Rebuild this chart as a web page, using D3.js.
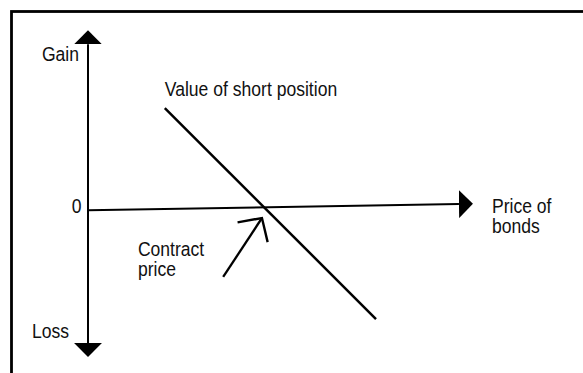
<!DOCTYPE html>
<html>
<head>
<meta charset="utf-8">
<script src="https://cdn.jsdelivr.net/npm/d3@7"></script>
<style>
  body { margin: 0; background: #fff; }
  svg text { font-family: "Liberation Sans", Arial, sans-serif; font-size: 19.3px; fill: #111; }
</style>
</head>
<body>
<svg id="chart" width="583" height="373"></svg>
<script>
// Diagram values in chart units (price on x, gain/loss on y)
const priceAxis = [{ x: 0, y: -0.1 }, { x: 9.66, y: 0.32 }];
const valueAxis = [{ x: 0, y: 11.1 }, { x: 0, y: -9.05 }];
const shortPosition = [{ x: 2.0, y: 6.8 }, { x: 7.5, y: -7.44 }];
const contractPointer = [{ x: 3.52, y: -4.6 }, { x: 4.53, y: -0.62 }];

const labels = [
  { lines: ["Gain"], x: -1.2, y: 9.98 },
  { lines: ["0"], x: -0.42, y: -0.28 },
  { lines: ["Loss"], x: -1.46, y: -8.72 },
  { lines: ["Value of short position"], x: 2.0, y: 7.61 },
  { lines: ["Contract", "price"], x: 1.3, y: -3.18 },
  { lines: ["Price of", "bonds"], x: 10.52, y: -0.28 }
];

const svg = d3.select("#chart");

const x = d3.scaleLinear().domain([0, 10]).range([88, 472]);
const y = d3.scaleLinear().domain([-10, 12]).range([357, 31]);

const line = d3.line()
  .x(d => x(d.x))
  .y(d => y(d.y));

// frame (only top and left edges fall inside the picture)
svg.append("rect")
  .attr("x", 11.5).attr("y", 11.5)
  .attr("width", 620).attr("height", 420)
  .attr("fill", "none")
  .attr("stroke", "#000")
  .attr("stroke-width", 2.8);

const defs = svg.append("defs");

defs.append("marker")
  .attr("id", "solidHead")
  .attr("viewBox", "0 0 14 28")
  .attr("refX", 0).attr("refY", 14)
  .attr("markerWidth", 14).attr("markerHeight", 28)
  .attr("markerUnits", "userSpaceOnUse")
  .attr("orient", "auto-start-reverse")
  .append("path")
  .attr("d", "M0,0L14,14L0,28Z")
  .attr("fill", "#000");

defs.append("marker")
  .attr("id", "openHead")
  .attr("viewBox", "-26 -20 30 40")
  .attr("refX", 0).attr("refY", 0)
  .attr("markerWidth", 30).attr("markerHeight", 40)
  .attr("markerUnits", "userSpaceOnUse")
  .attr("orient", "auto")
  .append("path")
  .attr("d", "M-17,-18L0,0L-17,18")
  .attr("fill", "none")
  .attr("stroke", "#000")
  .attr("stroke-width", 2.4);

// vertical axis: Gain up, Loss down
svg.append("path")
  .datum(valueAxis)
  .attr("fill", "none")
  .attr("stroke", "#000")
  .attr("stroke-width", 2)
  .attr("d", line)
  .attr("marker-start", "url(#solidHead)")
  .attr("marker-end", "url(#solidHead)");

// horizontal axis: price of bonds
svg.append("path")
  .datum(priceAxis)
  .attr("fill", "none")
  .attr("stroke", "#000")
  .attr("stroke-width", 2)
  .attr("d", line)
  .attr("marker-end", "url(#solidHead)");

// short position payoff
svg.append("path")
  .datum(shortPosition)
  .attr("fill", "none")
  .attr("stroke", "#000")
  .attr("stroke-width", 2.5)
  .attr("d", line);

// pointer to contract price
svg.append("path")
  .datum(contractPointer)
  .attr("fill", "none")
  .attr("stroke", "#000")
  .attr("stroke-width", 2.3)
  .attr("d", line)
  .attr("marker-end", "url(#openHead)");

// labels, squeezed a little to match the narrow face of the original
const txt = svg.selectAll("text.label")
  .data(labels)
  .enter()
  .append("text")
  .attr("class", "label")
  .attr("transform", d => `translate(${x(d.x)},${y(d.y)}) scale(0.91,1)`);

txt.selectAll("tspan")
  .data(d => d.lines.map((t, i) => ({ t, i })))
  .enter()
  .append("tspan")
  .attr("x", 0)
  .attr("dy", d => d.i === 0 ? 0 : 20)
  .text(d => d.t);
</script>
</body>
</html>
